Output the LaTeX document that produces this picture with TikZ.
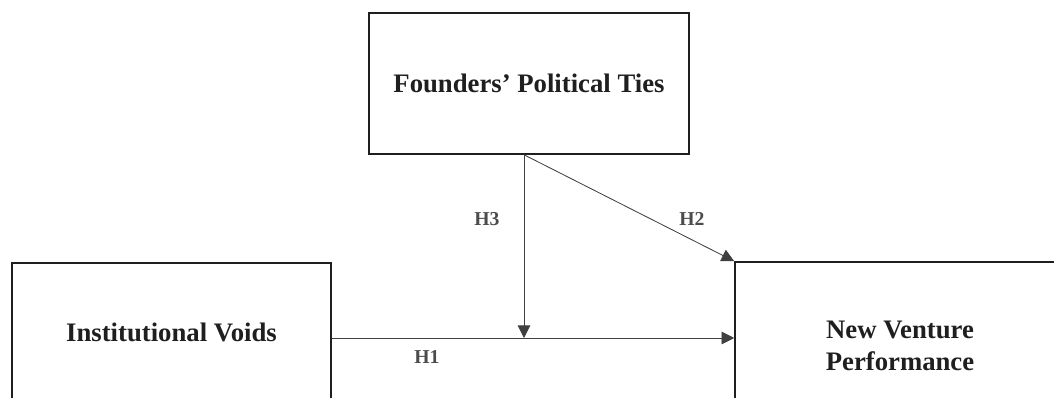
\documentclass[tikz,border=0pt]{standalone}
\usepackage{fontspec}
\setmainfont{Liberation Serif}
\usetikzlibrary{arrows.meta}

\tikzset{
  box/.style={draw=black!88, line width=1.1pt, fill=white, inner sep=0pt,
    align=center, text=black!88, font=\fontsize{19}{23}\selectfont\bfseries},
  link/.style={draw=black!75, line width=0.6pt,
    -{Triangle[length=9pt,width=9pt]}},
  hyp/.style={text=black!70, font=\fontsize{14}{16}\selectfont\bfseries}
}

\begin{document}
\begin{tikzpicture}[x=0.025cm, y=-0.025cm]
\useasboundingbox (0,0) rectangle (1054,398);
\clip (0,0) rectangle (1054,398);

% Boxes
\node[box, minimum width=320*0.025cm, minimum height=141*0.025cm]
  (ties) at (529,83.5) {Founders’ Political Ties};

\node[box, minimum width=319*0.025cm, minimum height=138*0.025cm]
  (voids) at (171.5,332) {Institutional Voids};

\node[box, minimum width=330*0.025cm, minimum height=168*0.025cm]
  (perf) at (900,346) {New Venture\\Performance};

% Meeting point of H3 on H1
\coordinate (m) at (524,338);

% Paths
\draw[link] (voids.east |- m) -- (perf.west |- m);
\draw[link] (ties.south -| m) -- (m);
\draw[link] (ties.south -| m) -- (perf.north west);

% Labels
\node[hyp] (h1) at (427,357) {H1};
\node[hyp] (h2) at (692,219) {H2};
\node[hyp] (h3) at (487,219) {H3};

\end{tikzpicture}
\end{document}
